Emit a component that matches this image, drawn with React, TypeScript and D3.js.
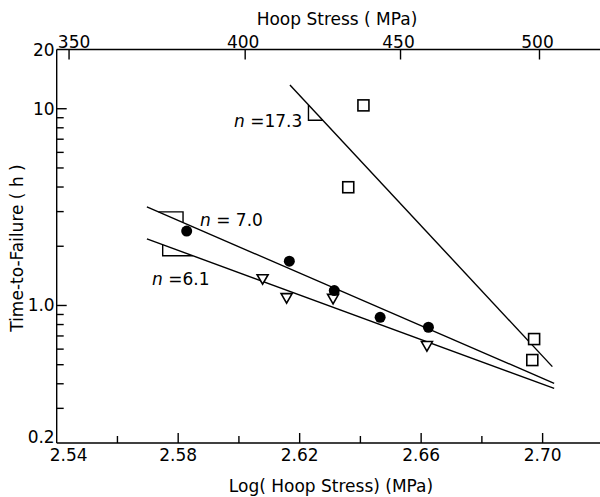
import React from "react";
import * as d3 from "d3";

// ---- data ----
const circlePts: [number, number][] = [
  [2.5828, 2.39],
  [2.6166, 1.68],
  [2.6314, 1.19],
  [2.6465, 0.871],
  [2.6624, 0.775],
];
const trianglePts: [number, number][] = [
  [2.6078, 1.36],
  [2.6157, 1.09],
  [2.631, 1.08],
  [2.6619, 0.622],
];
const squarePts: [number, number][] = [
  [2.641, 10.4],
  [2.636, 3.99],
  [2.6972, 0.675],
  [2.6966, 0.528],
];
const line70: [number, number][] = [
  [2.5697, 3.17],
  [2.7038, 0.402],
];
const line61: [number, number][] = [
  [2.5697, 2.18],
  [2.7038, 0.379],
];
const line173: [number, number][] = [
  [2.6168, 13.2],
  [2.7032, 0.489],
];
const xTicks = [2.56, 2.58, 2.6, 2.62, 2.64, 2.66, 2.68, 2.7];
const xLabels = [2.54, 2.58, 2.62, 2.66, 2.7];
const hoopTicks = [350, 400, 450, 500];
const yLabels = [0.2, 1, 10, 20];
const yLabelText = ["0.2", "1.0", "10", "20"];
const yMajor = [1, 10];
const yMinor = [0.3, 0.4, 0.5, 0.6, 0.7, 0.8, 0.9, 2, 3, 4, 5, 6, 7, 8, 9];

const W = 600;
const H = 497;
const left = 56.7;
const right = 600;
const top = 49.5;
const bottom = 443;

const x = d3.scaleLinear().domain([2.54, 2.54 + (right - left) / 3037]).range([left, right]);
const y = d3.scaleLog().domain([0.2, 20]).range([bottom, top]);

const font = "'DejaVu Sans', Verdana, sans-serif";

function onLine(line: [number, number][], xv: number) {
  const [[x0, y0], [x1, y1]] = line;
  const t = (xv - x0) / (x1 - x0);
  return Math.pow(10, Math.log10(y0) + t * (Math.log10(y1) - Math.log10(y0)));
}

export default function App() {
  const lineGen = d3
    .line<[number, number]>()
    .x((d) => x(d[0]))
    .y((d) => y(d[1]));

  // brackets
  const b70a = 2.5735, b70b = 2.5816;
  const b70 = `M${x(b70a)},${y(onLine(line70, b70a))}H${x(b70b)}V${y(onLine(line70, b70b))}`;
  const b61a = 2.5749, b61b = 2.5848;
  const b61 = `M${x(b61a)},${y(onLine(line61, b61a))}V${y(onLine(line61, b61b))}H${x(b61b)}`;
  const b17a = 2.6229, b17b = 2.6276;
  const b17 = `M${x(b17a)},${y(onLine(line173, b17a))}V${y(onLine(line173, b17b))}H${x(b17b)}`;

  const tri = (cx: number, cy: number) =>
    `M${cx - 5.5},${cy - 4.5}H${cx + 5.5}L${cx},${cy + 5}Z`;

  return (
    <svg width={W} height={H} style={{ display: "block", position: "absolute", left: 0, top: 0 }}>
      <rect width={W} height={H} fill="#fff" />
      <g stroke="#000" strokeWidth={1.4} fill="none">
        {/* axes */}
        <line x1={left} y1={top} x2={left} y2={bottom} />
        <line x1={left} y1={bottom} x2={right} y2={bottom} />
        <line x1={left} y1={top} x2={right} y2={top} />
        {xTicks.map((t) => {
          const major = Math.round(t * 100) % 4 === 2;
          return <line key={t} x1={x(t)} x2={x(t)} y1={bottom} y2={bottom - (major ? 10 : 7)} />;
        })}
        {hoopTicks.map((h) => (
          <line key={h} x1={x(Math.log10(h))} x2={x(Math.log10(h))} y1={top} y2={top + 10} />
        ))}
        {yMajor.map((v) => (
          <line key={v} x1={left} x2={left + 10} y1={y(v)} y2={y(v)} />
        ))}
        {yMinor.map((v) => (
          <line key={v} x1={left} x2={left + 7} y1={y(v)} y2={y(v)} />
        ))}
        {/* fit lines */}
        <path d={lineGen(line70) || ""} />
        <path d={lineGen(line61) || ""} />
        <path d={lineGen(line173) || ""} />
        <path d={b70} />
        <path d={b61} />
        <path d={b17} />
        {/* markers */}
        {trianglePts.map((p, i) => (
          <path key={i} d={tri(x(p[0]), y(p[1]))} fill="#fff" strokeWidth={1.6} />
        ))}
        {squarePts.map((p, i) => (
          <rect key={i} x={x(p[0]) - 5.5} y={y(p[1]) - 5.5} width={11} height={11} fill="#fff" strokeWidth={1.6} />
        ))}
        {circlePts.map((p, i) => (
          <circle key={i} cx={x(p[0])} cy={y(p[1])} r={5.5} fill="#000" stroke="none" />
        ))}
      </g>
      <g fontFamily={font} fontSize={17} fill="#000">
        {yLabels.map((v, i) => (
          <text key={v} x={left - 2} y={i === 0 ? bottom : y(v) + 6} textAnchor="end">
            {yLabelText[i]}
          </text>
        ))}
        {xLabels.map((v) => (
          <text key={v} x={v === 2.54 ? x(v) + 12 : x(v)} y={461} textAnchor="middle">
            {v.toFixed(2)}
          </text>
        ))}
        {hoopTicks.map((h) => (
          <text key={h} x={x(Math.log10(h)) + (h === 350 ? 5 : -2)} y={47.5} textAnchor="middle">
            {h}
          </text>
        ))}
        <text x={337} y={25} textAnchor="middle">Hoop Stress ( MPa)</text>
        <text x={331} y={492} textAnchor="middle">Log( Hoop Stress) (MPa)</text>
        <text transform="translate(23,248) rotate(-90)" textAnchor="middle">Time-to-Failure ( h )</text>
        <text x={200} y={226}>
          <tspan fontStyle="italic">n</tspan> = 7.0
        </text>
        <text x={152} y={285}>
          <tspan fontStyle="italic">n</tspan> =6.1
        </text>
        <text x={234} y={127}>
          <tspan fontStyle="italic">n</tspan> =17.3
        </text>
      </g>
    </svg>
  );
}
